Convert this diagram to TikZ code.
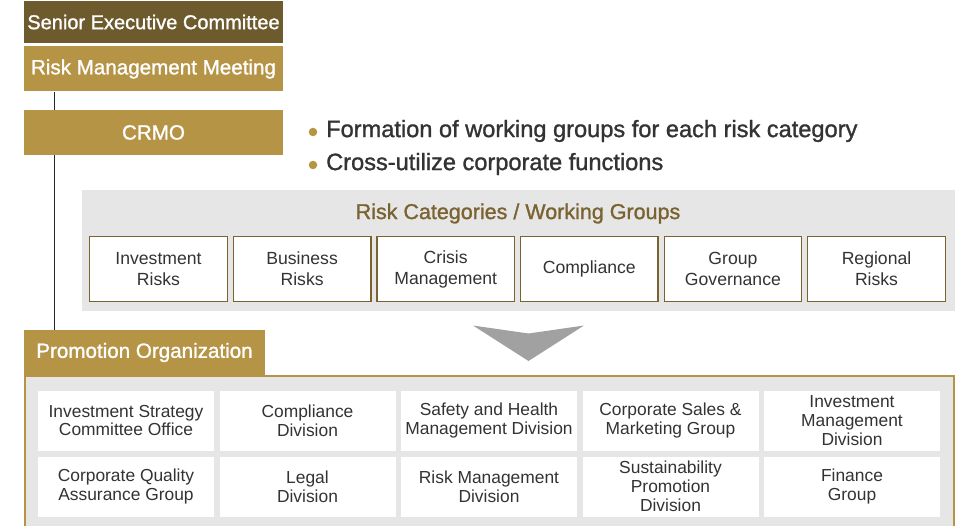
\documentclass[tikz,border=0pt]{standalone}
\usepackage{fontspec}
\setmainfont{Liberation Sans}
\newfontfamily\medfont[FakeBold=1.2]{Liberation Sans}
\definecolor{darkgold}{HTML}{6D5A2D}
\definecolor{gold}{HTML}{B59446}
\definecolor{boxbrown}{HTML}{7A6331}
\definecolor{panelgray}{HTML}{E6E6E6}
\definecolor{txtgray}{HTML}{333333}
\definecolor{arrowgray}{HTML}{A0A1A0}
\begin{document}
\begin{tikzpicture}[x=1pt,y=-1pt,
  hdr/.style={fill=gold, text=white, font=\medfont\fontsize{20.6}{24}\selectfont, minimum width=259pt, minimum height=45pt, inner sep=0pt},
  catbox/.style={fill=white, draw=boxbrown, line width=1.3pt, minimum width=137.5pt, minimum height=64.5pt, inner sep=0pt, align=center, text=txtgray, font=\fontsize{17.6}{21}\selectfont},
  orgbox/.style={fill=white, minimum width=176pt, minimum height=60pt, inner sep=0pt, align=center, text=txtgray, font=\fontsize{17.4}{18.8}\selectfont},
  bultext/.style={anchor=west, inner sep=0pt, text=txtgray, font=\medfont\fontsize{23.6}{27}\selectfont},
  buldot/.style={circle, fill=gold, minimum size=8.5pt, inner sep=0pt},
  conn/.style={draw=black!85, line width=0.9pt}]
\useasboundingbox (0,0) rectangle (957,526);

% top headers
\node[hdr, fill=darkgold, minimum height=42pt, font=\medfont\fontsize{20}{24}\selectfont] (sec) at (153.5,22) {Senior Executive Committee};
\node[hdr] (rmm) at (153.5,69) {Risk Management Meeting};
\node[hdr] (crmo) at (153.5,132.5) {CRMO};

% bullets
\node[buldot] (d1) at (313,132) {};
\node[bultext] (b1) at (326,131) {Formation of working groups for each risk category};
\node[buldot] (d2) at (313,165) {};
\node[bultext] (b2) at (326,164) {Cross-utilize corporate functions};

% risk categories panel
\node[fill=panelgray, minimum width=873pt, minimum height=121pt, inner sep=0pt] (rcpanel) at (518.5,250.5) {};
\node[text=boxbrown, font=\medfont\fontsize{21.5}{25}\selectfont, inner sep=0pt] (rctitle) at (518,213.5) {Risk Categories / Working Groups};
\node[catbox] (c1) at (158.5,269) {Investment\\Risks};
\node[catbox] (c2) at (302.1,269) {Business\\Risks};
\node[catbox] (c3) at (445.7,269) {Crisis\\Management};
\node[catbox] (c4) at (589.3,269) {Compliance};
\node[catbox] (c5) at (732.9,269) {Group\\Governance};
\node[catbox] (c6) at (876.5,269) {Regional\\Risks};

% chevron arrow
\fill[arrowgray] (473,325.5) -- (528.5,333.5) -- (584,325.5) -- (528.5,361) -- cycle;

% promotion organization panel (runs past the bottom edge)
\node[fill=panelgray, draw=gold, line width=1.3pt, minimum width=929pt, minimum height=170pt, inner sep=0pt] (orgpanel) at (489.5,461) {};
\node[hdr, minimum width=241pt] (promo) at (144.5,352.5) {Promotion Organization};

\node[orgbox] (o1) at (126,420.5) {Investment Strategy\\Committee Office};
\node[orgbox] (o2) at (307.5,420.5) {Compliance\\Division};
\node[orgbox] (o3) at (489,420.5) {Safety and Health\\Management Division};
\node[orgbox] (o4) at (670.5,420.5) {Corporate Sales \&\\Marketing Group};
\node[orgbox] (o5) at (852,420.5) {Investment\\Management\\Division};
\node[orgbox] (o6) at (126,486.5) {Corporate Quality\\Assurance Group};
\node[orgbox] (o7) at (307.5,486.5) {Legal\\Division};
\node[orgbox] (o8) at (489,486.5) {Risk Management\\Division};
\node[orgbox] (o9) at (670.5,486.5) {Sustainability\\Promotion\\Division};
\node[orgbox] (o10) at (852,486.5) {Finance\\Group};

% connectors
\coordinate (lx) at (54.5,0);
\draw[conn] (rmm.south -| lx) -- (crmo.north -| lx);
\draw[conn] (crmo.south -| lx) -- (promo.north -| lx);
\end{tikzpicture}
\end{document}
